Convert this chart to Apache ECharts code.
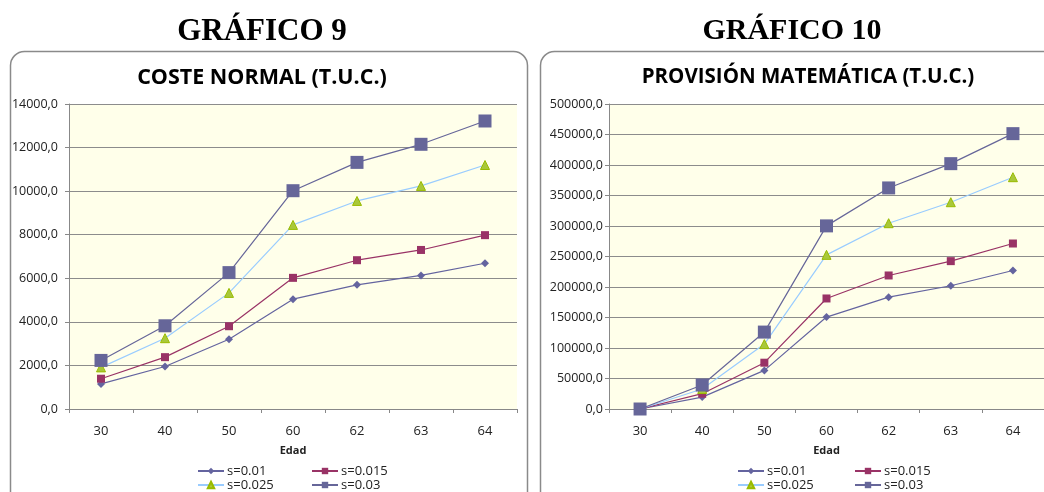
<!DOCTYPE html>
<html><head><meta charset="utf-8">
<script src="https://cdn.jsdelivr.net/npm/echarts@6/dist/echarts.min.js"></script>
<style>html,body{margin:0;padding:0;background:#fff}#c{width:1044px;height:492px}</style>
</head><body><div id="c"></div>
<script>
const edades = ['30','40','50','60','62','63','64'];
const seriesNames = ['s=0.01','s=0.015','s=0.025','s=0.03'];
// Gráfico 9: Coste normal (T.U.C.)
const costeS001 = [1150, 1950, 3200, 5040, 5700, 6130, 6690];
const costeS0015 = [1390, 2380, 3800, 6020, 6830, 7300, 7980];
const costeS0025 = [1910, 3250, 5330, 8450, 9550, 10240, 11200];
const costeS003 = [2230, 3820, 6260, 10020, 11320, 12150, 13220];
// Gráfico 10: Provisión matemática (T.U.C.)
const provS001 = [0, 19500, 63300, 150700, 183400, 202000, 227000];
const provS0015 = [0, 25100, 75900, 181200, 218900, 242400, 271300];
const provS0025 = [0, 32700, 106400, 252700, 304600, 339000, 380000];
const provS003 = [0, 39300, 126100, 300200, 362400, 402200, 451400];
const yTicksLeft = {min: 0, max: 14000, interval: 2000};
const yTicksRight = {min: 0, max: 500000, interval: 50000};

const styles = [
  {color:'#64649F', symbol:'diamond', size:8, border:'#64649F'},
  {color:'#993366', symbol:'rect', size:8, border:'#993366'},
  {color:'#99CCFF', symbol:'triangle', size:9, fill:'#A9C83A', border:'#99BB00'},
  {color:'#666699', symbol:'rect', size:13, border:'#666699'}
];
const font = '"Open Sans", "Noto Sans", sans-serif';
const fmt = v => v.toFixed(1).replace('.', ',');

function mkSeries(dataArr, gi) {
  return dataArr.map((d, i) => ({
    name: seriesNames[i], type: 'line', xAxisIndex: gi, yAxisIndex: gi,
    data: d, symbol: styles[i].symbol, symbolSize: styles[i].size,
    lineStyle: {color: styles[i].color, width: 1.2},
    itemStyle: {color: styles[i].fill || styles[i].color, borderColor: styles[i].border, borderWidth: styles[i].fill ? 1 : 0},
    emphasis: {disabled: true}, animation: false, z: 3 + i
  }));
}
function xAx(gi) {
  return {type:'category', gridIndex: gi, data: edades, boundaryGap: true,
    axisLine:{lineStyle:{color:'#888', width:1}},
    axisTick:{show:true, length:4, lineStyle:{color:'#888'}},
    axisLabel:{color:'#222', fontSize:13, fontFamily:font, margin:16},
    name:'Edad', nameLocation:'middle', nameGap:36,
    nameTextStyle:{fontWeight:'bold', fontSize:11, color:'#222', fontFamily:font}};
}
function yAx(gi, t, margin) {
  return {type:'value', gridIndex: gi, min:t.min, max:t.max, interval:t.interval,
    axisLine:{show:true, lineStyle:{color:'#888'}},
    axisTick:{show:true, length:4, lineStyle:{color:'#888'}},
    splitLine:{show:true, lineStyle:{color:'#8C8C8C', width:1.2}},
    axisLabel:{color:'#222', fontSize:12.5, fontFamily:font, margin:margin, formatter: fmt}};
}
function legend(left, names) {
  return {orient:'vertical', left:left, top:464, height:40, itemWidth:26, itemHeight:8, itemGap:0,
    data:names, selectedMode:false, padding:0,
    textStyle:{fontSize:13, fontFamily:font, color:'#222', lineHeight:14, padding:[0,0,0,-2]}};
}
const chart = echarts.init(document.getElementById('c'), null, {renderer:'canvas'});
chart.setOption({
  animation:false,
  backgroundColor:'#fff',
  graphic:[
    {type:'rect', shape:{x:10.5, y:51.5, width:517, height:470, r:14}, style:{fill:'none', stroke:'#8a8a8a', lineWidth:1.5}, z:-1},
    {type:'rect', shape:{x:540.5, y:51.5, width:520, height:470, r:14}, style:{fill:'none', stroke:'#8a8a8a', lineWidth:1.5}, z:-1}
  ],
  title:[
    {text:'GRÁFICO 9', left:257, top:11, textAlign:'center', textStyle:{fontFamily:'"Liberation Serif", serif', fontWeight:'bold', fontSize:31, color:'#000'}},
    {text:'GRÁFICO 10', left:787, top:11, textAlign:'center', textStyle:{fontFamily:'"Liberation Serif", serif', fontWeight:'bold', fontSize:30, color:'#000'}},
    {text:'COSTE NORMAL (T.U.C.)', left:257, top:62, textAlign:'center', textStyle:{fontFamily:font, fontWeight:'bold', fontSize:21.5, color:'#000'}},
    {text:'PROVISIÓN MATEMÁTICA (T.U.C.)', left:803, top:62, textAlign:'center', textStyle:{fontFamily:font, fontWeight:'bold', fontSize:20.5, color:'#000'}}
  ],
  legend:[
    legend(197, ['s=0.01','s=0.025']), legend(311, ['s=0.015','s=0.03']),
    legend(737, ['s=0.01','s=0.025']), legend(854, ['s=0.015','s=0.03'])
  ],
  grid:[
    {left:69, right:527, top:104, bottom:83, show:true, backgroundColor:'#FFFFEA', borderWidth:0},
    {left:609, right:0, top:104, bottom:83, show:true, backgroundColor:'#FFFFEA', borderWidth:0}
  ],
  xAxis:[xAx(0), xAx(1)],
  yAxis:[yAx(0, yTicksLeft, 11), yAx(1, yTicksRight, 6)],
  series:[...mkSeries([costeS001, costeS0015, costeS0025, costeS003], 0),
          ...mkSeries([provS001, provS0015, provS0025, provS003], 1)]
});
</script></body></html>
